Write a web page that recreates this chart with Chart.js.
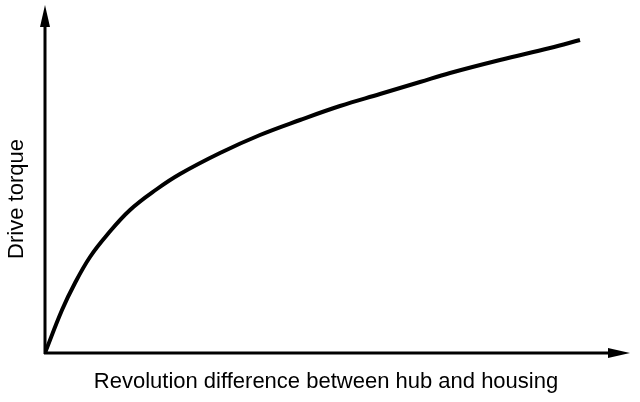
<!DOCTYPE html>
<html>
<head>
<meta charset="utf-8">
<script src="https://cdn.jsdelivr.net/npm/chart.js@4"></script>
<style>
  html, body { margin: 0; padding: 0; background: #fff; }
  #wrap { width: 640px; height: 402px; }
</style>
</head>
<body>
<div id="wrap"><canvas id="torque-chart"></canvas></div>
<script>
// revolution difference (arbitrary units) and drive torque (arbitrary units)
const revDiff = [0, 17, 30, 45, 62, 85, 112, 135, 175, 215, 255, 295, 335, 375, 405, 455, 505, 535];
const torque  = [0, 43, 70, 96, 118, 143, 164, 179, 200, 218, 233, 247, 259, 271, 280, 293, 305, 313];

const xLabel = 'Revolution difference between hub and housing';
const yLabel = 'Drive torque';

// axes with arrow heads, drawn from the scales
const arrowAxes = {
  id: 'arrowAxes',
  afterDraw(chart) {
    const ctx = chart.ctx;
    const x = chart.scales.x, y = chart.scales.y;
    const x0 = x.getPixelForValue(0), x1 = x.getPixelForValue(x.max);
    const y0 = y.getPixelForValue(0), y1 = y.getPixelForValue(y.max);
    ctx.save();
    ctx.strokeStyle = '#000';
    ctx.fillStyle = '#000';
    ctx.lineWidth = 3;
    ctx.beginPath();
    ctx.moveTo(x0, y0 + 1);
    ctx.lineTo(x0, y1 + 10);
    ctx.moveTo(x0 - 1, y0);
    ctx.lineTo(x1 - 10, y0);
    ctx.stroke();
    // y arrow
    ctx.beginPath();
    ctx.moveTo(x0, y1);
    ctx.lineTo(x0 + 5, y1 + 22);
    ctx.lineTo(x0 - 5, y1 + 22);
    ctx.closePath();
    ctx.fill();
    // x arrow
    ctx.beginPath();
    ctx.moveTo(x1, y0);
    ctx.lineTo(x1 - 22, y0 - 5);
    ctx.lineTo(x1 - 22, y0 + 5);
    ctx.closePath();
    ctx.fill();
    // labels
    ctx.font = '22px "Liberation Sans", Arial, sans-serif';
    ctx.textAlign = 'center';
    ctx.textBaseline = 'middle';
    ctx.fillText(xLabel, 326, 382);
    ctx.translate(17, 199);
    ctx.rotate(-Math.PI / 2);
    ctx.fillText(yLabel, 0, 0);
    ctx.restore();
  }
};

new Chart(document.getElementById('torque-chart'), {
  type: 'line',
  data: {
    datasets: [{
      data: revDiff.map((v, i) => ({ x: v, y: torque[i] })),
      borderColor: '#000',
      borderWidth: 4,
      pointRadius: 0,
      tension: 0.4,
      fill: false
    }]
  },
  options: {
    responsive: true,
    maintainAspectRatio: false,
    animation: false,
    layout: { padding: { left: 45, top: 5, right: 10, bottom: 49 } },
    plugins: { legend: { display: false }, tooltip: { enabled: false } },
    scales: {
      x: { type: 'linear', min: 0, max: 585, display: false },
      y: { min: 0, max: 348, display: false }
    }
  },
  plugins: [arrowAxes]
});
</script>
</body>
</html>
